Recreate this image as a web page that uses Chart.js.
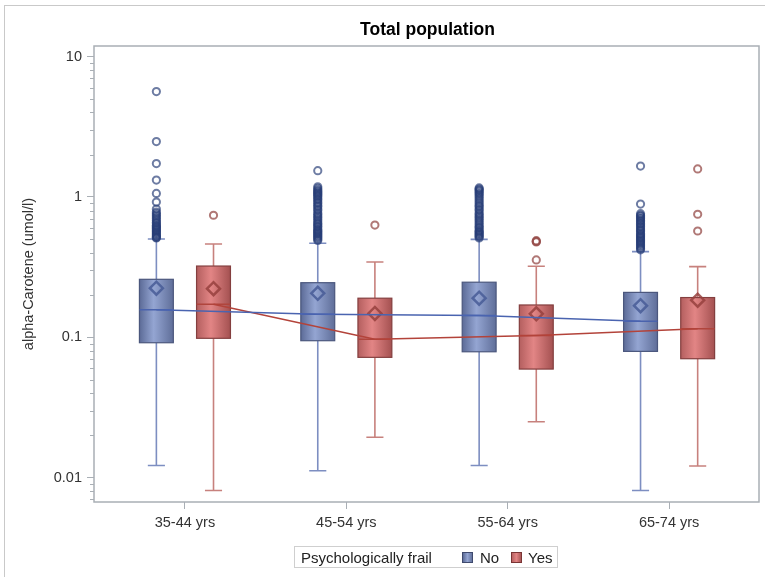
<!DOCTYPE html>
<html lang="en">
<head>
<meta charset="UTF-8">
<title>Total population</title>
<script src="https://cdn.jsdelivr.net/npm/chart.js"></script>
<style>
    body {
        margin: 0;
        background: #fff;
        font-family: "Liberation Sans", Arial, sans-serif;
    }
    .wrap {
        position: relative;
        width: 765px;
        height: 577px;
        overflow: hidden;
    }
    .outer {
        position: absolute;
        left: 4px;
        top: 5px;
        width: 800px;
        height: 600px;
        border-left: 1px solid #c9c9c9;
        border-top: 1px solid #c9c9c9;
    }
    canvas {
        position: absolute;
        left: 0;
        top: 0;
    }
    h1 {
        position: absolute;
        margin: 0;
        top: 18px;
        left: 94px;
        width: 667px;
        text-align: center;
        font-size: 17.5px;
        line-height: 22px;
        font-weight: bold;
        color: #000;
    }
    .legend {
        position: absolute;
        left: 294px;
        top: 546px;
        width: 264px;
        height: 22px;
        box-sizing: border-box;
        border: 1px solid #cfcfcf;
        font-size: 15px;
        color: #222;
    }
    .legend span {
        position: absolute;
        top: 2px;
        line-height: 17px;
    }
    .legend .sw {
        top: 5px;
        width: 9px;
        height: 9px;
    }
    .sw.no { background: linear-gradient(90deg, #5c6b97, #94a5d2, #63729d); border: 1px solid #3f4a6e; }
    .sw.yes { background: linear-gradient(90deg, #b86262, #e28484, #a85555); border: 1px solid #7a3535; }
</style>
</head>
<body>
<div class="wrap">
    <div class="outer"></div>
    <canvas id="chart" width="765" height="577"></canvas>
    <h1>Total population</h1>
    <div class="legend">
        <span style="left:6px">Psychologically frail</span>
        <span class="sw no" style="left:167px"></span><span style="left:185px">No</span>
        <span class="sw yes" style="left:216px"></span><span style="left:233px">Yes</span>
    </div>
</div>
<script>
    const categories = ['35-44 yrs', '45-54 yrs', '55-64 yrs', '65-74 yrs'];
    const yTicks = [0.01, 0.1, 1, 10];
    const yTickLabels = ['0.01', '0.1', '1', '10'];
    const yMinor = [0.007, 0.008, 0.009, 0.02, 0.03, 0.04, 0.05, 0.06, 0.07, 0.08, 0.09,
        0.2, 0.3, 0.4, 0.5, 0.6, 0.7, 0.8, 0.9, 2, 3, 4, 5, 6, 7, 8, 9];

    // Psychologically frail = No
    const noLow = [0.0122, 0.0112, 0.0122, 0.0081];
    const noQ1 = [0.0915, 0.0946, 0.0789, 0.0794];
    const noMedian = [0.157, 0.146, 0.143, 0.130];
    const noQ3 = [0.259, 0.245, 0.247, 0.209];
    const noHigh = [0.502, 0.468, 0.499, 0.408];
    const noMean = [0.224, 0.206, 0.190, 0.168];
    const noOutliers = [
        [5.63, 2.48, 1.73, 1.32, 1.06, 0.92, 0.82, 0.78, 0.76, 0.74, 0.72, 0.70, 0.68, 0.66, 0.65, 0.63,
            0.62, 0.61, 0.60, 0.59, 0.58, 0.57, 0.56, 0.55, 0.54, 0.53, 0.52, 0.515, 0.51],
        [1.54, 1.18, 1.15, 1.12, 1.10, 1.08, 1.06, 1.04, 1.02, 1.0, 0.97, 0.95, 0.92, 0.90, 0.87, 0.85,
            0.82, 0.80, 0.77, 0.75, 0.73, 0.71, 0.69, 0.67, 0.65, 0.64, 0.62, 0.61, 0.59, 0.58, 0.57,
            0.56, 0.55, 0.54, 0.53, 0.52, 0.51, 0.50, 0.49],
        [1.16, 1.14, 1.12, 1.10, 1.07, 1.05, 1.02, 0.99, 0.96, 0.93, 0.90, 0.87, 0.85, 0.82, 0.80, 0.77,
            0.75, 0.73, 0.71, 0.69, 0.67, 0.65, 0.63, 0.61, 0.60, 0.58, 0.57, 0.56, 0.55, 0.54, 0.53,
            0.52, 0.51],
        [1.66, 0.89, 0.76, 0.74, 0.73, 0.71, 0.70, 0.68, 0.67, 0.65, 0.64, 0.62, 0.61, 0.59, 0.58, 0.57,
            0.55, 0.54, 0.53, 0.52, 0.51, 0.50, 0.49, 0.48, 0.47, 0.46, 0.45, 0.44, 0.43, 0.42]
    ];

    // Psychologically frail = Yes
    const yesLow = [0.0081, 0.0194, 0.0250, 0.0121];
    const yesQ1 = [0.0984, 0.0720, 0.0594, 0.0704];
    const yesMedian = [0.172, 0.097, 0.103, 0.115];
    const yesQ3 = [0.322, 0.190, 0.170, 0.192];
    const yesHigh = [0.462, 0.344, 0.321, 0.319];
    const yesMean = [0.222, 0.148, 0.147, 0.184];
    const yesOutliers = [
        [0.741],
        [0.631],
        [0.488, 0.482, 0.478, 0.356],
        [1.585, 0.753, 0.572]
    ];

    const offNo = -0.177, offYes = 0.177, boxHalf = 0.105, capHalf = 0.053;
    const font = {family: '"Liberation Sans", Arial, sans-serif', size: 14.5};

    const groupsDraw = [
        {off: offNo, low: noLow, q1: noQ1, med: noMedian, q3: noQ3, high: noHigh,
            fill: ['#5c6b97', '#94a5d2', '#5f6e99'], edge: '#4b577d', whisker: '#7d8ec1', medLine: '#4a63ad'},
        {off: offYes, low: yesLow, q1: yesQ1, med: yesMedian, q3: yesQ3, high: yesHigh,
            fill: ['#b45f5f', '#e28585', '#a45151'], edge: '#843f3f', whisker: '#c7817d', medLine: '#b0453d'}
    ];

    const toPts = (arr, off) => arr.map((v, i) => ({x: i + 1 + off, y: v}));
    const outPts = (lists, off) => lists.flatMap((l, i) => l.map(v => ({x: i + 1 + off, y: v})));

    // boxes and whiskers, drawn from the scales
    const boxPlugin = {
        id: 'boxes',
        beforeDatasetsDraw(chart) {
            const ctx = chart.ctx, xs = chart.scales.x, ys = chart.scales.y;
            const area = chart.chartArea;
            ctx.save();
            // frame + minor ticks
            ctx.strokeStyle = '#a9afb5';
            ctx.lineWidth = 1.5;
            ctx.strokeRect(area.left, area.top, area.right - area.left, area.bottom - area.top);
            ctx.lineWidth = 1;
            yMinor.forEach(v => {
                const y = Math.round(ys.getPixelForValue(v)) + 0.5;
                ctx.beginPath();
                ctx.moveTo(area.left - 4, y);
                ctx.lineTo(area.left, y);
                ctx.stroke();
            });
            groupsDraw.forEach(g => {
                categories.forEach((c, i) => {
                    const xc = xs.getPixelForValue(i + 1 + g.off);
                    const hw = xs.getPixelForValue(boxHalf) - xs.getPixelForValue(0);
                    const cw = xs.getPixelForValue(capHalf) - xs.getPixelForValue(0);
                    const yLow = ys.getPixelForValue(g.low[i]);
                    const yQ1 = ys.getPixelForValue(g.q1[i]);
                    const yMed = ys.getPixelForValue(g.med[i]);
                    const yQ3 = ys.getPixelForValue(g.q3[i]);
                    const yHigh = ys.getPixelForValue(g.high[i]);

                    ctx.strokeStyle = g.whisker;
                    ctx.lineWidth = 1.6;
                    ctx.beginPath();
                    ctx.moveTo(xc, yQ3); ctx.lineTo(xc, yHigh);
                    ctx.moveTo(xc - cw, yHigh); ctx.lineTo(xc + cw, yHigh);
                    ctx.moveTo(xc, yQ1); ctx.lineTo(xc, yLow);
                    ctx.moveTo(xc - cw, yLow); ctx.lineTo(xc + cw, yLow);
                    ctx.stroke();

                    const grad = ctx.createLinearGradient(xc - hw, 0, xc + hw, 0);
                    grad.addColorStop(0, g.fill[0]);
                    grad.addColorStop(0.42, g.fill[1]);
                    grad.addColorStop(1, g.fill[2]);
                    ctx.fillStyle = grad;
                    ctx.fillRect(xc - hw, yQ3, hw * 2, yQ1 - yQ3);
                    ctx.strokeStyle = g.edge;
                    ctx.lineWidth = 1.2;
                    ctx.strokeRect(xc - hw, yQ3, hw * 2, yQ1 - yQ3);

                    ctx.strokeStyle = g.medLine;
                    ctx.lineWidth = 1.5;
                    ctx.beginPath();
                    ctx.moveTo(xc - hw, yMed); ctx.lineTo(xc + hw, yMed);
                    ctx.stroke();
                });
            });
            ctx.restore();
        }
    };

    new Chart(document.getElementById('chart').getContext('2d'), {
        type: 'scatter',
        data: {
            datasets: [
                {type: 'line', label: 'No median', data: toPts(noMedian, offNo), borderColor: '#4a64b0',
                    borderWidth: 1.5, pointRadius: 0, fill: false, tension: 0},
                {type: 'line', label: 'Yes median', data: toPts(yesMedian, offYes), borderColor: '#b3433a',
                    borderWidth: 1.5, pointRadius: 0, fill: false, tension: 0},
                {label: 'No mean', data: toPts(noMean, offNo), pointStyle: 'rectRot', pointRadius: 6.5,
                    borderWidth: 2.5, borderColor: 'rgba(72,92,150,0.85)', backgroundColor: 'rgba(0,0,0,0)'},
                {label: 'Yes mean', data: toPts(yesMean, offYes), pointStyle: 'rectRot', pointRadius: 6.5,
                    borderWidth: 2.5, borderColor: 'rgba(150,65,62,0.85)', backgroundColor: 'rgba(0,0,0,0)'},
                {label: 'No outliers', data: outPts(noOutliers, offNo), pointStyle: 'circle', pointRadius: 3.6,
                    borderWidth: 2, borderColor: 'rgba(40,62,120,0.68)', backgroundColor: 'rgba(0,0,0,0)'},
                {label: 'Yes outliers', data: outPts(yesOutliers, offYes), pointStyle: 'circle', pointRadius: 3.6,
                    borderWidth: 2, borderColor: 'rgba(150,75,72,0.75)', backgroundColor: 'rgba(0,0,0,0)'}
            ]
        },
        options: {
            responsive: false,
            animation: false,
            layout: {autoPadding: false, padding: {left: 0, top: 46, right: 6, bottom: 0}},
            plugins: {
                legend: {display: false},
                tooltip: {enabled: false}
            },
            scales: {
                x: {
                    type: 'linear',
                    min: 0.4365,
                    max: 4.557,
                    afterBuildTicks: s => { s.ticks = categories.map((c, i) => ({value: i + 1})); },
                    afterFit: s => { s.height = 75; s.paddingLeft = 0; s.paddingRight = 0; },
                    ticks: {
                        callback: (v, i) => categories[i],
                        font: font, color: '#333', padding: 5, maxRotation: 0, autoSkip: false
                    },
                    grid: {drawOnChartArea: false, tickLength: 7, color: '#a9afb5'},
                    border: {display: false}
                },
                y: {
                    type: 'logarithmic',
                    min: 0.00671,
                    max: 11.9,
                    afterBuildTicks: s => { s.ticks = yTicks.map(v => ({value: v})); },
                    afterFit: s => { s.width = 94; s.paddingTop = 0; s.paddingBottom = 0; },
                    ticks: {
                        callback: (v, i) => yTickLabels[i],
                        font: font, color: '#333', padding: 5
                    },
                    title: {
                        display: true,
                        text: 'alpha-Carotene (umol/l)',
                        font: {family: font.family, size: 14.5},
                        color: '#333',
                        padding: {top: 20, bottom: 0}
                    },
                    grid: {drawOnChartArea: false, tickLength: 7, color: '#a9afb5'},
                    border: {display: false}
                }
            }
        },
        plugins: [boxPlugin]
    });
</script>
</body>
</html>
